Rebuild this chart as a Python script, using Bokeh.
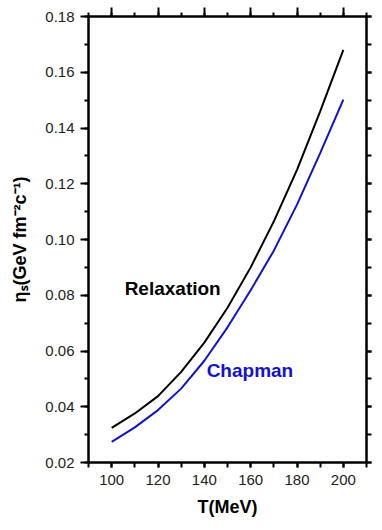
from bokeh.plotting import figure
from bokeh.models import LinearAxis, SingleIntervalTicker, NumeralTickFormatter, CustomJSTickFormatter, Range1d, Label
from bokeh.embed import file_html
from bokeh.resources import INLINE

# Data
T = [100, 110, 120, 130, 140, 150, 160, 170, 180, 190, 200]
relaxation = [0.0324, 0.0376, 0.0438, 0.0525, 0.0630, 0.0755, 0.0900, 0.1065, 0.1250, 0.1460, 0.1680]
chapman = [0.0274, 0.0326, 0.0388, 0.0465, 0.0565, 0.0685, 0.0818, 0.0960, 0.1125, 0.1310, 0.1502]

x_tick_step = 20
y_tick_step = 0.02
x_limits = (90, 210)
y_limits = (0.02, 0.18)

FONT = "Liberation Sans"
BLUE = "#1212CC"

p = figure(width=374, height=522, output_backend="svg", toolbar_location=None,
           x_range=Range1d(*x_limits), y_range=Range1d(*y_limits),
           min_border_left=88, min_border_right=8, min_border_top=16, min_border_bottom=60)
p.outline_line_color = "black"
p.outline_line_width = 2
p.grid.grid_line_alpha = 0

common = dict(axis_line_width=2, axis_line_color="black",
              major_tick_line_color="black", minor_tick_line_color="black",
              major_tick_line_width=2, minor_tick_line_width=2,
              major_tick_in=0, minor_tick_in=0,
              major_label_text_font=FONT, major_label_text_font_size="15px",
              major_label_text_color="#222222",
              axis_label_text_font=FONT, axis_label_text_font_style="bold",
              axis_label_text_font_size="18px", axis_label_text_color="black")

# bottom (default axis)
xb = p.xaxis[0]
xb.update(**common)
xb.ticker = SingleIntervalTicker(interval=x_tick_step, num_minor_ticks=2)
xb.axis_label = "T(MeV)"
xb.major_tick_out = 5
xb.minor_tick_out = 5
xb.major_label_standoff = 7
xb.axis_label_standoff = 9

# left (default axis)
yl = p.yaxis[0]
yl.update(**common)
yl.ticker = SingleIntervalTicker(interval=y_tick_step, num_minor_ticks=2)
yl.formatter = NumeralTickFormatter(format="0.00")
yl.axis_label = "ηₛ(GeV fm⁻²c⁻¹)"
yl.major_tick_out = 8
yl.minor_tick_out = 4
yl.major_label_standoff = 6
yl.axis_label_standoff = 12

# top
xt = LinearAxis(ticker=SingleIntervalTicker(interval=x_tick_step, num_minor_ticks=2),
                formatter=CustomJSTickFormatter(code="return ''"), **common)
xt.major_tick_out = 9
xt.minor_tick_out = 4
xt.major_label_standoff = 0
xt.major_label_text_font_size = "1px"
p.add_layout(xt, "above")

# right
yr = LinearAxis(ticker=SingleIntervalTicker(interval=y_tick_step, num_minor_ticks=2),
                formatter=CustomJSTickFormatter(code="return ''"), **common)
yr.major_tick_out = 5
yr.minor_tick_out = 5
yr.major_label_standoff = 0
yr.major_label_text_font_size = "1px"
p.add_layout(yr, "right")

p.line(T, relaxation, line_color="black", line_width=2)
p.line(T, chapman, line_color=BLUE, line_width=2)

p.add_layout(Label(x=105.6, y=0.0826, text="Relaxation", text_font=FONT,
                   text_font_style="bold", text_font_size="19px", text_color="black",
                   text_baseline="middle", text_align="left"))
p.add_layout(Label(x=141.0, y=0.0531, text="Chapman", text_font=FONT,
                   text_font_style="bold", text_font_size="19px", text_color=BLUE,
                   text_baseline="middle", text_align="left"))

open("out.html", "w").write(file_html(p, INLINE))
